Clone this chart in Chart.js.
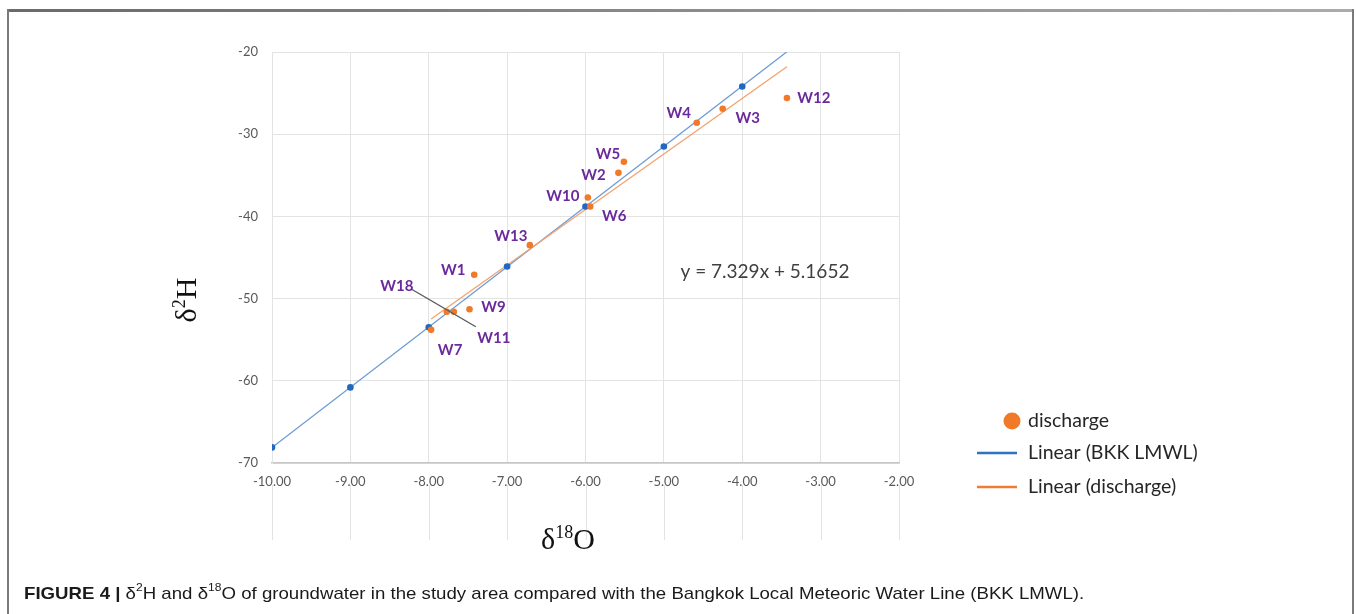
<!DOCTYPE html>
<html>
<head>
<meta charset="utf-8">
<title>δ2H vs δ18O – groundwater and BKK LMWL</title>
<script src="https://cdn.jsdelivr.net/npm/chart.js@4.4.1/dist/chart.umd.min.js"></script>
<style>
  html, body { margin: 0; padding: 0; background: #fff; width: 1356px; height: 614px; overflow: hidden; }
  #wrap { position: relative; width: 1356px; height: 614px; }
  #chart { position: absolute; left: 0; top: 0; }
  .frame-top { position: absolute; left: 7px; top: 9px; width: 1347px; height: 3px; background: linear-gradient(to right, #6a6a6a, #ababab); }
  .frame-left { position: absolute; left: 7px; top: 9px; width: 2px; height: 605px; background: #7a7a7a; }
  .frame-right { position: absolute; left: 1352px; top: 9px; width: 2px; height: 605px; background: #7a7a7a; }
  .caption { position: absolute; left: 24px; top: 584px; font-family: "Liberation Sans", Arial, sans-serif; font-size: 17px; color: #1a1a1a; white-space: nowrap; transform: scaleX(1.097); transform-origin: 0 50%; }
  .caption b { font-weight: bold; }
  .caption sup { font-size: 11px; line-height: 0; position: relative; top: -1px; }
</style>
</head>
<body>
<div id="wrap">
  <canvas id="chart" width="1356" height="614"></canvas>
  <div class="frame-top"></div>
  <div class="frame-left"></div>
  <div class="frame-right"></div>
  <div class="caption"><b>FIGURE 4 |</b> δ<sup>2</sup>H and δ<sup>18</sup>O of groundwater in the study area compared with the Bangkok Local Meteoric Water Line (BKK LMWL).</div>
</div>
<script>
// Groundwater discharge samples (δ18O, δ2H in ‰)
const wellNames = ['W1', 'W2', 'W3', 'W4', 'W5', 'W6', 'W7', 'W9', 'W10', 'W11', 'W12', 'W13', 'W18'];
const dischargeO18 = [-7.42, -5.58, -4.25, -4.58, -5.51, -5.94, -7.97, -7.48, -5.97, -7.68, -3.43, -6.71, -7.77];
const dischargeH2 = [-47.1, -34.7, -26.9, -28.6, -33.35, -38.8, -53.8, -51.3, -37.7, -51.6, -25.6, -43.5, -51.6];

// Bangkok Local Meteoric Water Line reference points
const bkkO18 = [-10, -9, -8, -7, -6, -5, -4];
const bkkH2 = [-68.1, -60.8, -53.5, -46.1, -38.8, -31.5, -24.2];

// BKK LMWL regression: y = 7.329x + 5.1652
const lmwlSlope = 7.329;
const lmwlIntercept = 5.1652;

// Axis ticks
const xTicks = [-10, -9, -8, -7, -6, -5, -4, -3, -2];
const yTicks = [-70, -60, -50, -40, -30, -20];

// Label placement (pixel offset of each well label from its point)
const labelOffsets = {
  W1: [-21, -5], W2: [-25, 2], W3: [25, 9], W4: [-18, -10], W5: [-16, -8],
  W6: [24, 10], W7: [19, 20], W9: [24, -2], W10: [-25, -1], W11: [40, 26],
  W12: [27, 0], W13: [-19, -9], W18: [-50, -26]
};

const ORANGE = '#f07a2a';
const BLUE = '#2168c3';

const xMin = xTicks[0], xMax = xTicks[xTicks.length - 1];
const yMin = yTicks[0], yMax = yTicks[yTicks.length - 1];

// Least-squares fit of the discharge samples
function linearFit(xs, ys) {
  const n = xs.length;
  const mx = xs.reduce((a, b) => a + b, 0) / n;
  const my = ys.reduce((a, b) => a + b, 0) / n;
  let sxy = 0, sxx = 0;
  for (let i = 0; i < n; i++) { sxy += (xs[i] - mx) * (ys[i] - my); sxx += (xs[i] - mx) ** 2; }
  const m = sxy / sxx;
  return { m, b: my - m * mx };
}
const dFit = linearFit(dischargeO18, dischargeH2);
const dXmin = Math.min(...dischargeO18), dXmax = Math.max(...dischargeO18);
const dischargeTrend = [dXmin, dXmax].map(x => ({ x, y: dFit.m * x + dFit.b }));

// LMWL drawn from -10 until it leaves the top of the plot
const lmwlEnd = (yMax - lmwlIntercept) / lmwlSlope;
const lmwlTrend = [bkkO18[0], lmwlEnd].map(x => ({ x, y: lmwlSlope * x + lmwlIntercept }));

const dischargePts = dischargeO18.map((x, i) => ({ x, y: dischargeH2[i] }));
const bkkPts = bkkO18.map((x, i) => ({ x, y: bkkH2[i] }));

// Vertical grid lines continue below the axis
const gridExtend = {
  id: 'gridExtend',
  beforeDatasetsDraw(chart) {
    const { ctx, chartArea, scales: { x } } = chart;
    ctx.save();
    ctx.strokeStyle = '#e3e3e3';
    ctx.lineWidth = 1;
    xTicks.forEach(v => {
      const px = Math.round(x.getPixelForValue(v)) + 0.5;
      ctx.beginPath();
      ctx.moveTo(px, chartArea.bottom + 22);
      ctx.lineTo(px, 540);
      ctx.stroke();
    });
    ctx.restore();
  }
};

// Well labels, leader line and regression equation
const annotations = {
  id: 'annotations',
  afterDatasetsDraw(chart) {
    const { ctx, scales: { x, y } } = chart;
    const meta = chart.getDatasetMeta(2);
    ctx.save();
    // leader joining W18 and W11 labels
    const i18 = wellNames.indexOf('W18'), i11 = wellNames.indexOf('W11');
    const p18 = meta.data[i18], p11 = meta.data[i11];
    ctx.strokeStyle = '#5a5a5a';
    ctx.lineWidth = 1.4;
    ctx.beginPath();
    ctx.moveTo(p18.x - 36, p18.y - 23);
    ctx.lineTo(p11.x + 22, p11.y + 15);
    ctx.stroke();

    ctx.font = 'bold 15px Lato, "Open Sans", sans-serif';
    ctx.fillStyle = '#6a2a9c';
    ctx.textAlign = 'center';
    ctx.textBaseline = 'middle';
    wellNames.forEach((name, i) => {
      const el = meta.data[i];
      const [dx, dy] = labelOffsets[name];
      ctx.fillText(name, el.x + dx, el.y + dy);
    });

    ctx.font = '19px Lato, "Open Sans", sans-serif';
    ctx.fillStyle = '#404040';
    ctx.fillText('y = ' + lmwlSlope + 'x + ' + lmwlIntercept, x.getPixelForValue(-3.71), y.getPixelForValue(-46.8));
    ctx.restore();
  }
};

// Serif axis titles with superscripts, plus the legend
function drawRich(ctx, parts, cx, cy, size) {
  const supSize = Math.round(size * 0.6);
  let w = 0;
  parts.forEach(p => {
    ctx.font = (p.sup ? supSize : size) + 'px "Liberation Serif", "DejaVu Serif", serif';
    p.w = ctx.measureText(p.t).width;
    w += p.w;
  });
  let px = cx - w / 2;
  ctx.textAlign = 'left';
  ctx.textBaseline = 'alphabetic';
  parts.forEach(p => {
    ctx.font = (p.sup ? supSize : size) + 'px "Liberation Serif", "DejaVu Serif", serif';
    ctx.fillText(p.t, px, cy + size * 0.33 - (p.sup ? size * 0.38 : 0));
    px += p.w;
  });
}

const legendOrder = ['discharge', 'Linear (BKK LMWL)', 'Linear (discharge)'];

const decorations = {
  id: 'decorations',
  afterDraw(chart) {
    const { ctx } = chart;
    ctx.save();
    ctx.fillStyle = '#111';
    drawRich(ctx, [{ t: 'δ' }, { t: '18', sup: true }, { t: 'O' }], 568, 539, 30);
    ctx.translate(186, 300);
    ctx.rotate(-Math.PI / 2);
    drawRich(ctx, [{ t: 'δ' }, { t: '2', sup: true }, { t: 'H' }], 0, 0, 30);
    ctx.restore();

    // legend
    ctx.save();
    const rows = [421, 453, 487];
    legendOrder.forEach((label, i) => {
      const d = chart.data.datasets.find(ds => ds.label === label);
      const yy = rows[i];
      if (d.legendKind === 'point') {
        ctx.fillStyle = d.backgroundColor;
        ctx.beginPath();
        ctx.arc(1012, yy, 8.5, 0, Math.PI * 2);
        ctx.fill();
      } else {
        ctx.strokeStyle = d.legendColor;
        ctx.lineWidth = 2.5;
        ctx.beginPath();
        ctx.moveTo(977, yy);
        ctx.lineTo(1017, yy);
        ctx.stroke();
      }
      ctx.fillStyle = '#262626';
      ctx.font = '19.5px Lato, "Open Sans", sans-serif';
      ctx.textAlign = 'left';
      ctx.textBaseline = 'middle';
      ctx.fillText(d.label, 1028, yy);
    });
    ctx.restore();
  }
};

new Chart(document.getElementById('chart'), {
  type: 'scatter',
  data: {
    datasets: [
      {
        label: 'Linear (BKK LMWL)', legendKind: 'line', legendColor: '#2e72c2',
        data: lmwlTrend, showLine: true, pointRadius: 0,
        borderColor: '#6d9bd6', borderWidth: 1.3, order: 3
      },
      {
        label: 'Linear (discharge)', legendKind: 'line', legendColor: '#ef7d32',
        data: dischargeTrend, showLine: true, pointRadius: 0,
        borderColor: '#f4a26c', borderWidth: 1.3, order: 2
      },
      {
        label: 'discharge', legendKind: 'point',
        data: dischargePts, pointRadius: 3.3, pointBorderWidth: 0,
        backgroundColor: ORANGE, borderColor: ORANGE, order: 0
      },
      {
        label: 'BKK LMWL',
        data: bkkPts, pointRadius: 3.3, pointBorderWidth: 0,
        backgroundColor: BLUE, borderColor: BLUE, order: 1
      }
    ]
  },
  options: {
    responsive: false,
    animation: false,
    events: [],
    layout: { padding: { left: 0, top: 52, right: 457, bottom: 51 } },
    plugins: { legend: { display: false }, tooltip: { enabled: false } },
    scales: {
      x: {
        type: 'linear', min: xMin, max: xMax,
        afterBuildTicks: s => { s.ticks = xTicks.map(v => ({ value: v })); },
        afterFit: s => { s.height = 100; },
        ticks: {
          callback: v => v.toFixed(2), color: '#595959', padding: 11,
          font: { family: 'Lato, "Open Sans", sans-serif', size: 13 }
        },
        grid: { color: '#e3e3e3', drawTicks: false },
        border: { color: '#c6c6c6', width: 1.5 }
      },
      y: {
        type: 'linear', min: yMin, max: yMax,
        afterBuildTicks: s => { s.ticks = yTicks.map(v => ({ value: v })); },
        afterFit: s => { s.width = 272; },
        ticks: {
          color: '#595959', padding: 14,
          font: { family: 'Lato, "Open Sans", sans-serif', size: 13 }
        },
        grid: { color: '#e3e3e3', drawTicks: false },
        border: { color: '#e3e3e3' }
      }
    }
  },
  plugins: [gridExtend, annotations, decorations]
});
</script>
</body>
</html>
